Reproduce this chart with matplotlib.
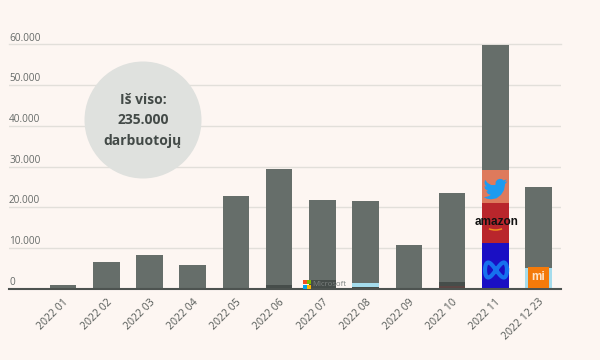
import numpy as np
import matplotlib
matplotlib.use("Agg")
import matplotlib.pyplot as plt
from matplotlib.patches import Circle, PathPatch, Rectangle, Arc
from matplotlib.path import Path

plt.rcParams['font.family'] = ['Open Sans', 'DejaVu Sans']

months = ['2022 01', '2022 02', '2022 03', '2022 04', '2022 05', '2022 06',
          '2022 07', '2022 08', '2022 09', '2022 10', '2022 11', '2022 12 23']
totals = [800, 6400, 8300, 5850, 22700, 29400, 21700, 21400, 10700, 23400, 60000, 25000]
meta = [0, 0, 0, 0, 0, 0, 0, 0, 0, 0, 11250, 0]
amazon = [0, 0, 0, 0, 0, 0, 0, 0, 0, 0, 9700, 0]
twitter = [0, 0, 0, 0, 0, 0, 0, 0, 0, 0, 8200, 0]
maroon = [0, 0, 0, 0, 0, 0, 0, 0, 0, 600, 0, 0]
dark = [0, 0, 0, 0, 0, 800, 2000, 300, 0, 1000, 0, 0]
light = [0, 0, 0, 0, 0, 0, 0, 1000, 0, 0, 0, 5100]
yticks = [0, 10000, 20000, 30000, 40000, 50000, 60000]
ytick_labels = ['0', '10.000', '20.000', '30.000', '40.000', '50.000', '60.000']

BG = '#fdf6f2'
fig = plt.figure(figsize=(6, 3.6), dpi=100, facecolor=BG)
ax = fig.add_axes([9 / 600, 71.5 / 360, 552 / 600, 244 / 360], facecolor=BG)

x = np.arange(len(months))
layers = [(meta, '#1a0fc4'), (amazon, '#b9262c'), (twitter, '#de7a5c'),
          (maroon, '#5c4644'), (dark, '#464d4a'), (light, '#a5dcec')]
bottom = np.zeros(len(months))
W = 0.615
for vals, col in layers:
    ax.bar(x, vals, W, bottom=bottom, color=col, linewidth=0, zorder=3)
    bottom += np.array(vals)
ax.bar(x, np.array(totals) - bottom, W, bottom=bottom, color='#666e6a', linewidth=0, zorder=3)

ax.set_xlim(-1.25, 11.52)
ax.set_ylim(0, 60000)
for s in ['top', 'right', 'left']:
    ax.spines[s].set_visible(False)
ax.spines['bottom'].set_color('#4d5350')
ax.spines['bottom'].set_linewidth(1.5)
ax.spines['bottom'].set_zorder(5)
ax.set_yticks(yticks)
ax.set_yticklabels([])
ax.tick_params(axis='y', length=0)
ax.grid(axis='y', color='#e2dfda', linewidth=1, zorder=0)
ax.yaxis.get_gridlines()[-1].set_clip_on(False)
ax.set_axisbelow(True)
ax.set_xticks(x)
ax.set_xticklabels(months, rotation=45, ha='right', rotation_mode='anchor',
                   fontsize=7.6, color='#555a57')
ax.tick_params(axis='x', length=0, pad=6)
for v, lab in zip(yticks, ytick_labels):
    ax.annotate(lab, (0, v), xycoords=('axes fraction', 'data'), xytext=(0, 0.6),
                textcoords='offset points', ha='left', va='bottom', fontsize=7.2,
                color='#666b69', annotation_clip=False)

# overlay in reference pixel coordinates
ov = fig.add_axes([0, 0, 1, 1], facecolor='none')
ov.set_xlim(0, 600)
ov.set_ylim(360, 0)
ov.axis('off')

ov.add_patch(Circle((143, 120), 58.5, color='#dfe1de', lw=0))
for ty, t in [(100.5, 'Iš viso:'), (120.5, '235.000'), (140.5, 'darbuotojų')]:
    ov.text(143, ty, t, ha='center', va='center', fontsize=10, fontweight='bold',
            color='#434a47')

# Twitter bird
bird = np.array([(23.95, 4.57), (21.13, 5.35), (23.29, 2.62), (20.16, 3.81), (18.7, 2.6),
                 (16.4, 2.2), (13.9, 3.0), (12.3, 4.9), (11.85, 8.1), (7.69, 8.1),
                 (4.07, 6.13), (1.64, 3.16), (0.97, 5.64), (1.5, 7.9), (3.16, 9.73),
                 (0.93, 9.12), (1.5, 11.7), (4.88, 14.0), (2.67, 14.09), (4.5, 16.6),
                 (7.27, 17.51), (4.5, 19.0), (1.17, 19.61), (0, 19.54), (3.5, 21.2),
                 (7.56, 21.75), (13, 20.8), (17.5, 17.5), (20.5, 13), (21.55, 7.77),
                 (21.54, 7.14), (24, 4.59)])
bx = 483.5 + bird[:, 0] * 1.0
by = 176.5 + bird[:, 1] * 1.05
ov.add_patch(PathPatch(Path(np.column_stack([bx, by]), closed=False), color='#1d9bf0', lw=0))

# amazon
ov.text(496.5, 222, 'amazon', ha='center', va='center', fontsize=8.5, fontweight='bold',
        color='#111111', family=['Liberation Sans', 'DejaVu Sans'])
ov.add_patch(Arc((495.5, 225), 20, 10, theta1=30, theta2=150, color='#f08c1e', lw=1.1))

# Meta infinity
t = np.linspace(0, 2 * np.pi, 200)
ov.plot(496 + 11 * np.cos(t), 270 + 7.5 * np.sin(2 * t), color='#1670ee', lw=3)

# Xiaomi
ov.add_patch(Rectangle((527.5, 267), 21.5, 21, color='#f47a0a', lw=0))
ov.text(538.2, 277.5, 'mi', ha='center', va='center', fontsize=8.5, fontweight='bold',
        color='#fde3c8', family=['Liberation Sans', 'DejaVu Sans'])

# Microsoft
for (mx, my, c) in [(303, 280, '#f25022'), (307, 280, '#7fba00'),
                    (303, 284.5, '#00a4ef'), (307, 284.5, '#ffb900')]:
    ov.add_patch(Rectangle((mx, my), 3.8, 4.2, color=c, lw=0))
ov.text(312, 284.5, 'Microsoft', ha='left', va='center', fontsize=5.6, color='#7d8280')

fig.savefig('out.png', dpi=100, facecolor=BG)
